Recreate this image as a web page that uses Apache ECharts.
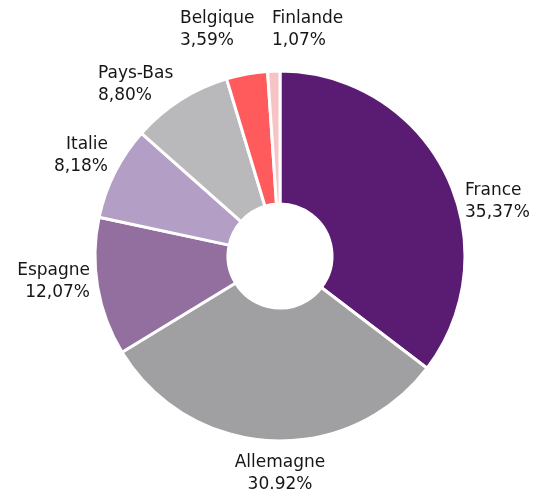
<!DOCTYPE html>
<html>
<head>
    <meta charset="utf-8">
    <title>Répartition par pays</title>
    <script src="https://cdn.jsdelivr.net/npm/echarts@6/dist/echarts.min.js"></script>
</head>
<body style="margin:0">
    <div id="main" style="width:541px; height:492px"></div>
    <script type="text/javascript">
        var countries = ['France', 'Allemagne', 'Espagne', 'Italie', 'Pays-Bas', 'Belgique', 'Finlande'];
        var shares = [35.37, 30.92, 12.07, 8.18, 8.80, 3.59, 1.07];
        var shareLabels = ['35,37%', '30.92%', '12,07%', '8,18%', '8,80%', '3,59%', '1,07%'];
        var colors = ['#5a1b72', '#a0a0a2', '#926f9f', '#b39fc6', '#b9b9bb', '#ff5a5c', '#f8c3c4'];

        // where each label sits (layout only)
        var labelPlacement = [
            { x: 465, y: 202, align: 'left' },
            { x: 280, y: 474, align: 'center' },
            { x: 90, y: 282, align: 'right' },
            { x: 108, y: 156, align: 'right' },
            { x: 98, y: 85, align: 'left' },
            { x: 180, y: 30, align: 'left' },
            { x: 272, y: 30, align: 'left' }
        ];

        var myChart = echarts.init(document.getElementById('main'));

        var pieData = countries.map(function (name, i) {
            return { name: name, value: shares[i], itemStyle: { color: colors[i] } };
        });

        var option = {
            animation: false,
            series: [
                {
                    type: 'pie',
                    center: [280, 256],
                    radius: [52, 185],
                    startAngle: 90,
                    clockwise: true,
                    avoidLabelOverlap: false,
                    data: pieData,
                    itemStyle: {
                        borderColor: '#fff',
                        borderWidth: 3
                    },
                    label: {
                        show: true,
                        position: 'outside',
                        fontFamily: 'DejaVu Sans',
                        fontSize: 17,
                        lineHeight: 22,
                        color: '#161616',
                        formatter: function (p) {
                            return p.name + '\n' + shareLabels[p.dataIndex];
                        }
                    },
                    labelLine: {
                        show: false
                    },
                    labelLayout: function (params) {
                        var pl = labelPlacement[params.dataIndex];
                        return {
                            x: pl.x,
                            y: pl.y,
                            align: pl.align,
                            verticalAlign: 'middle'
                        };
                    }
                }
            ]
        };

        myChart.setOption(option);
    </script>
</body>
</html>
